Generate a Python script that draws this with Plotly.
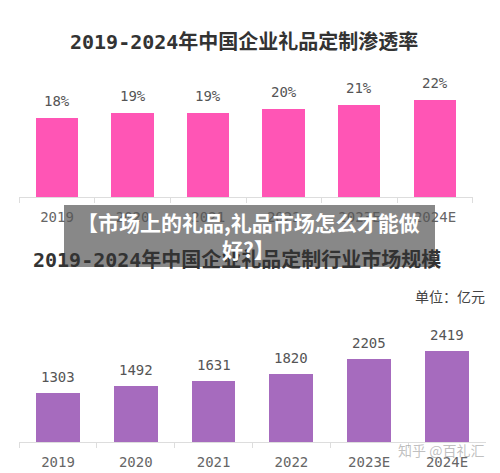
import plotly.graph_objects as go

years_top = ["2019", "2020", "2021", "2022", "2023E", "2024E"]
rate_values = [18, 19, 19, 20, 21, 22]
rate_labels = ["18%", "19%", "19%", "20%", "21%", "22%"]

years_bottom = ["2019", "2020", "2021", "2022", "2023E", "2024E"]
size_values = [1303, 1492, 1631, 1820, 2205, 2419]

title_top = "2019-2024年中国企业礼品定制渗透率"
title_bottom = "2019-2024年中国企业礼品定制行业市场规模"
overlay_text = "【市场上的礼品,礼品市场怎么才能做<br>好?】"
unit_text = "单位：亿元"
watermark = "知乎 @百礼汇"

# page body has an 8px margin; size the figure to fit the 500x473 window
OFF = 8
W, H = 500 - OFF, 473 - OFF
def px(s):
    return (s - OFF) / W
def py(s):
    return 1 - (s - OFF) / H

FONT = "DejaVu Sans Mono, Noto Sans CJK SC"
CJK = "Noto Sans CJK SC, DejaVu Sans Mono"

fig = go.Figure()
fig.add_trace(go.Bar(x=years_top, y=rate_values, marker=dict(color="#FF55B5", line=dict(width=0)),
                     width=0.56, xaxis="x", yaxis="y", hoverinfo="skip"))
fig.add_trace(go.Bar(x=years_bottom, y=size_values, marker=dict(color="#A66BBE", line=dict(width=0)),
                     width=0.565, xaxis="x2", yaxis="y2", hoverinfo="skip"))

axis_common = dict(showgrid=False, zeroline=False, showline=True, linecolor="#dddddd", linewidth=1,
                   ticks="outside", tickson="boundaries", ticklen=5, tickcolor="#dddddd",
                   tickfont=dict(family=FONT, size=14, color="#666666"), fixedrange=True,
                   type="category", range=[-0.5, 5.5], tickangle=0, automargin=False,
                   ticklabelstandoff=7)

fig.update_layout(
    width=W, height=H, margin=dict(l=0, r=0, t=0, b=0, autoexpand=False),
    paper_bgcolor="white", plot_bgcolor="white", showlegend=False, bargap=0,
    xaxis=dict(domain=[px(19.2), px(472.8)], anchor="y", **axis_common),
    yaxis=dict(domain=[py(197), py(87)], range=[0, 25], visible=False, fixedrange=True, automargin=False),
    xaxis2=dict(domain=[px(19.1), px(485.9)], anchor="y2", **axis_common),
    yaxis2=dict(domain=[py(442), py(337)], range=[0, 2800], visible=False, fixedrange=True, automargin=False),
)

annotations = []
for i, (v, t) in enumerate(zip(rate_values, rate_labels)):
    annotations.append(dict(x=i, y=v, xref="x", yref="y", text=t, showarrow=False,
                            yanchor="bottom", yshift=7, font=dict(family=FONT, size=14, color="#555555")))
for i, v in enumerate(size_values):
    annotations.append(dict(x=i, y=v, xref="x2", yref="y2", text=str(v), showarrow=False,
                            yanchor="bottom", yshift=6, font=dict(family=FONT, size=14, color="#555555")))

annotations += [
    dict(x=px(244), y=py(42), xref="paper", yref="paper", text="<b>" + title_top + "</b>", showarrow=False,
         xanchor="center", yanchor="middle", font=dict(family=FONT, size=20, color="#333333")),
    dict(x=px(237), y=py(260), xref="paper", yref="paper", text="<b>" + title_bottom + "</b>", showarrow=False,
         xanchor="center", yanchor="middle", font=dict(family=FONT, size=20, color="#333333")),
    dict(x=px(487), y=py(296), xref="paper", yref="paper", text=unit_text, showarrow=False,
         xanchor="right", yanchor="middle", font=dict(family=CJK, size=14, color="#444444")),
    dict(x=px(486), y=py(450), xref="paper", yref="paper", text=watermark, showarrow=False,
         xanchor="right", yanchor="middle", font=dict(family=CJK, size=14, color="rgba(150,150,150,0.6)")),
    dict(x=px(248), y=py(235), xref="paper", yref="paper", text="<b>" + overlay_text + "</b>", showarrow=False,
         xanchor="center", yanchor="middle", align="center",
         font=dict(family=CJK, size=21, color="white")),
]
fig.update_layout(annotations=annotations)

fig.add_shape(type="rect", xref="paper", yref="paper", x0=px(64), x1=px(435), y0=py(267), y1=py(205),
              fillcolor="rgba(85,85,85,0.7)", line=dict(width=0), layer="above")

fig.write_html("out.html")
